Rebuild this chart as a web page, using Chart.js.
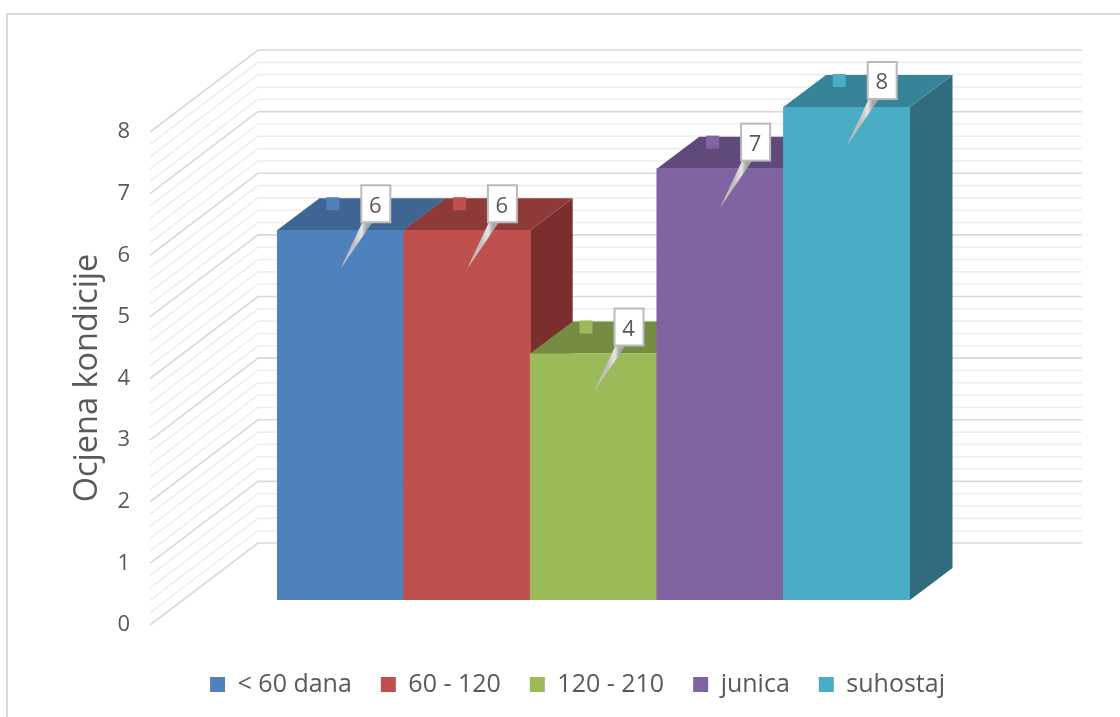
<!DOCTYPE html>
<html>
<head>
<meta charset="utf-8">
<script src="https://cdn.jsdelivr.net/npm/chart.js@4"></script>
<style>
  html, body { margin: 0; padding: 0; background: #fff; }
  #wrap { width: 1120px; height: 717px; overflow: hidden; }
  #kondicija { filter: blur(0.5px); }
</style>
</head>
<body>
<div id="wrap"><canvas id="kondicija" width="1120" height="717"></canvas></div>
<script>
const categories = ['< 60 dana', '60 - 120', '120 - 210', 'junica', 'suhostaj'];
const scores = [6, 6, 4, 7, 8];
const frontColors = ['#4F81BD', '#C0504D', '#9BBB59', '#8064A2', '#4BACC6'];
const topColors = ['#3F6592', '#8E3A38', '#758C42', '#604A7B', '#378397'];
const sideColors = ['#355579', '#7A2F2E', '#647838', '#503E67', '#306C7E'];
const axisTitle = 'Ocjena kondicije';
const yMax = 8;
const gridStep = 0.2;

const textColor = '#595959';
const fontName = '"Open Sans", sans-serif';

// depth of the fake 3d box, in pixels
const depthX = 42.5, depthY = 32;
const wallFrontX = 150, wallBackX = 258, wallRightX = 1082;
const wallFrontDy = 25, wallBackDy = -57;

function poly(ctx, pts, fill) {
    ctx.beginPath();
    pts.forEach((p, i) => i ? ctx.lineTo(p[0], p[1]) : ctx.moveTo(p[0], p[1]));
    ctx.closePath();
    ctx.fillStyle = fill;
    ctx.fill();
}

const walls = {
    id: 'walls',
    beforeDatasetsDraw(chart) {
        const { ctx, scales: { y } } = chart;
        ctx.save();
        // frame of the pasted picture
        ctx.strokeStyle = '#d9d9d9';
        ctx.lineWidth = 2;
        ctx.beginPath();
        ctx.moveTo(7, 717);
        ctx.lineTo(7, 14);
        ctx.lineTo(1120, 14);
        ctx.stroke();

        const steps = Math.round(yMax / gridStep);
        for (let i = steps; i >= 0; i--) {
            const v = i * gridStep;
            const major = i % 5 === 0;
            const py = y.getPixelForValue(v);
            ctx.strokeStyle = major ? '#d9d9d9' : '#eeeeee';
            ctx.lineWidth = 1.6;
            ctx.beginPath();
            ctx.moveTo(wallFrontX, py + wallFrontDy);
            ctx.lineTo(wallBackX, py + wallBackDy);
            ctx.lineTo(wallRightX, py + wallBackDy);
            ctx.stroke();
        }

        // value axis sits on the front of the side wall
        ctx.fillStyle = textColor;
        ctx.font = '22px ' + fontName;
        ctx.textAlign = 'right';
        ctx.textBaseline = 'middle';
        for (let v = 0; v <= yMax; v++) {
            ctx.fillText(String(v), 130, y.getPixelForValue(v) + 25);
        }
        ctx.save();
        ctx.translate(88, 378);
        ctx.rotate(-Math.PI / 2);
        ctx.textAlign = 'center';
        ctx.font = '32.5px ' + fontName;
        ctx.fillText(axisTitle, 0, 0);
        ctx.restore();

        // top and side faces, left to right so the next bar overlaps
        chart.getDatasetMeta(0).data.forEach((bar, i) => {
            const l = bar.x - bar.width / 2, r = bar.x + bar.width / 2;
            const t = bar.y, b = bar.base;
            poly(ctx, [[r, b], [r + depthX, b - depthY], [r + depthX, t - depthY], [r, t]], sideColors[i]);
            poly(ctx, [[l, t], [r, t], [r + depthX, t - depthY], [l + depthX, t - depthY]], topColors[i]);
        });
        ctx.restore();
    }
};

const callouts = {
    id: 'callouts',
    afterDatasetsDraw(chart) {
        const { ctx } = chart;
        ctx.save();
        chart.getDatasetMeta(0).data.forEach((bar, i) => {
            const cx = bar.x, t = bar.y;
            // little legend key of the data label
            ctx.fillStyle = frontColors[i];
            ctx.fillRect(cx - 14, t - 33, 13, 13);
            // tail
            const grad = ctx.createLinearGradient(cx + 14, 0, cx + 26, 0);
            grad.addColorStop(0, '#bfbfbf');
            grad.addColorStop(0.6, '#e6e6e6');
            grad.addColorStop(1, '#a6a6a6');
            poly(ctx, [[cx + 22, t - 8], [cx + 32, t - 8], [cx, t + 39]], grad);
            // box
            ctx.fillStyle = '#fff';
            ctx.strokeStyle = '#bababa';
            ctx.lineWidth = 2;
            ctx.fillRect(cx + 21, t - 45, 29, 37);
            ctx.strokeRect(cx + 21, t - 45, 29, 37);
            ctx.fillStyle = textColor;
            ctx.font = '22px ' + fontName;
            ctx.textAlign = 'center';
            ctx.textBaseline = 'middle';
            ctx.fillText(String(scores[i]), cx + 35, t - 24);
        });
        ctx.restore();
    }
};

new Chart(document.getElementById('kondicija'), {
    type: 'bar',
    data: {
        labels: categories,
        datasets: [{
            data: scores,
            backgroundColor: frontColors,
            barPercentage: 1,
            categoryPercentage: 1,
            borderWidth: 0
        }]
    },
    options: {
        responsive: false,
        animation: false,
        layout: { padding: { left: 35, right: 0, top: 107, bottom: 10 } },
        scales: {
            x: {
                grid: { display: false },
                border: { display: false },
                ticks: { display: false },
                afterFit(s) { s.height = 43; }
            },
            y: {
                min: 0,
                max: yMax,
                grid: { display: false },
                border: { display: false },
                ticks: { display: false },
                afterFit(s) { s.width = 242; }
            },
            // only keeps the room right of the bars, the legend still centres on the full width
            spacer: {
                position: 'right',
                display: true,
                grid: { display: false },
                border: { display: false },
                ticks: { display: false },
                afterFit(s) { s.width = 210; }
            }
        },
        plugins: {
            tooltip: { enabled: false },
            legend: {
                position: 'bottom',
                labels: {
                    boxWidth: 15,
                    boxHeight: 15,
                    padding: 29,
                    color: textColor,
                    font: { family: fontName, size: 25 },
                    generateLabels: () => categories.map((c, i) => ({
                        text: c,
                        fillStyle: frontColors[i],
                        strokeStyle: frontColors[i],
                        lineWidth: 0,
                        fontColor: textColor,
                        index: i
                    }))
                }
            }
        }
    },
    plugins: [walls, callouts]
});
</script>
</body>
</html>
